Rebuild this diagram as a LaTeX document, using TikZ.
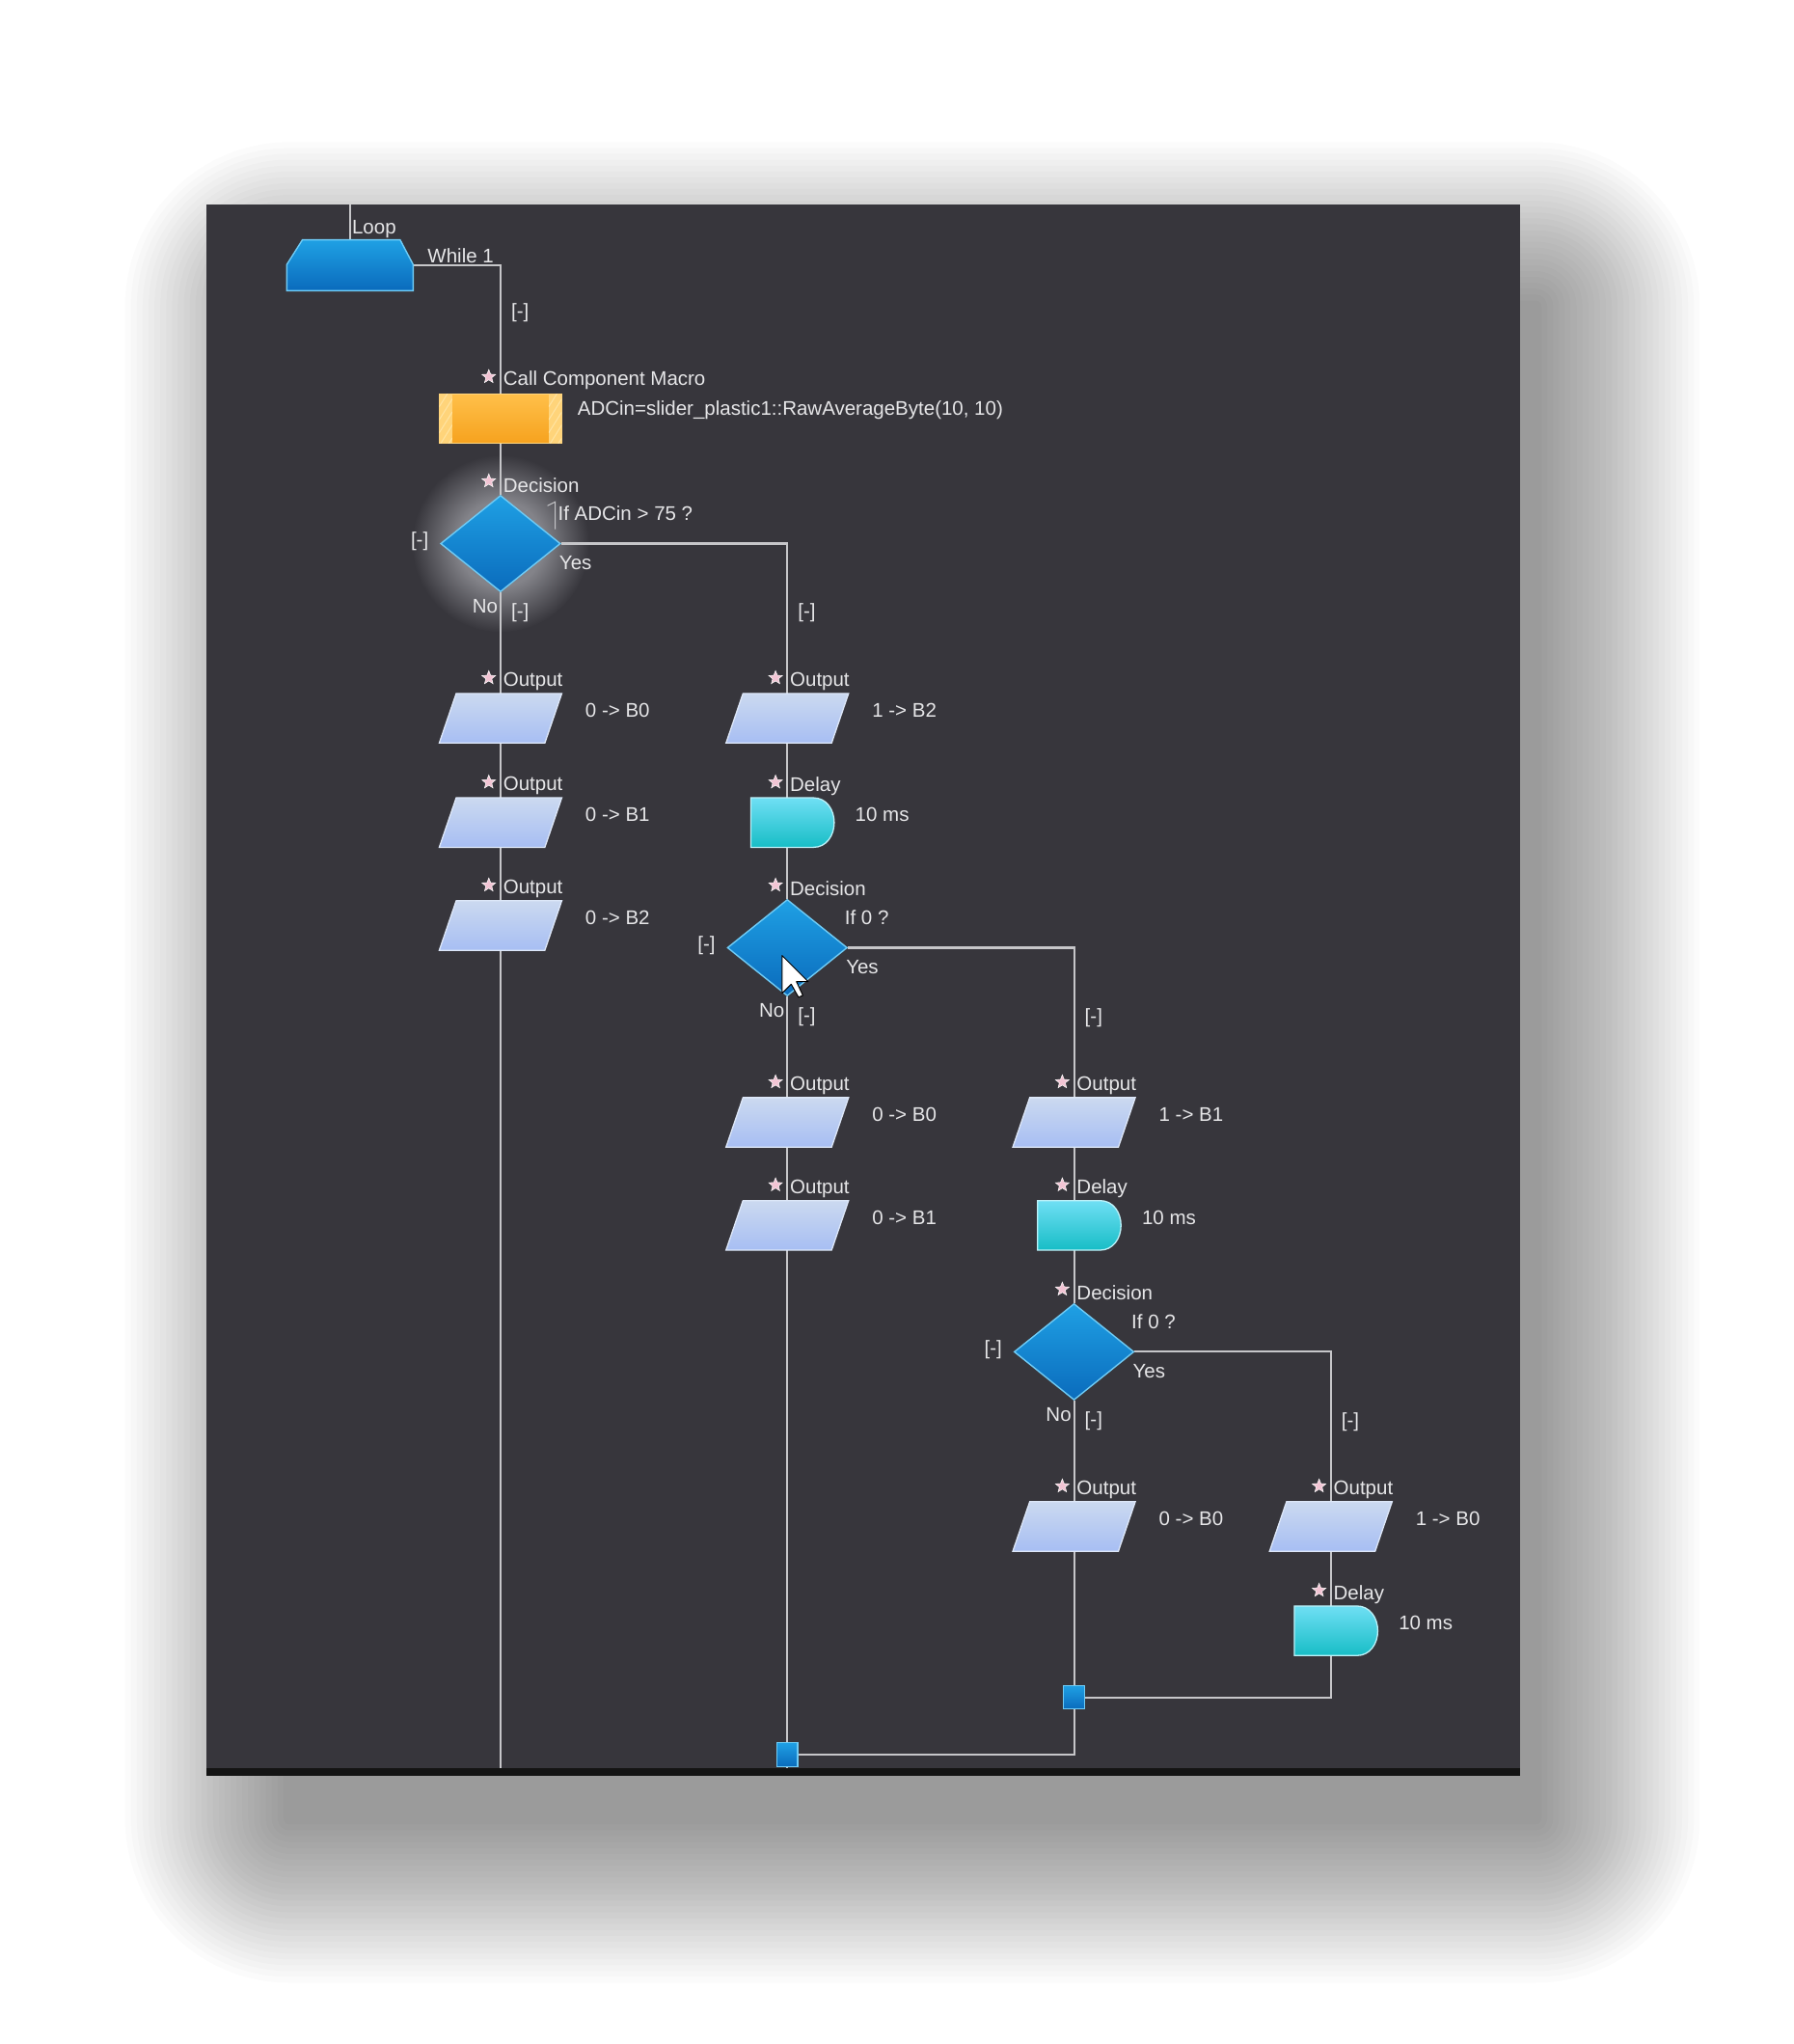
\documentclass[tikz,border=0pt]{standalone}
\usepackage{fontspec}
\setmainfont{Liberation Sans}
\usetikzlibrary{shapes.geometric,calc}
\pgfdeclarelayer{back}
\pgfdeclarelayer{wires}
\pgfsetlayers{back,wires,main}

\definecolor{panel}{HTML}{37363C}
\definecolor{lnc}{HTML}{C6C6C9}
\definecolor{txt}{HTML}{E6E6E8}
\definecolor{outT}{HTML}{CBD9F0}
\definecolor{outB}{HTML}{A7BEF3}
\definecolor{outE}{HTML}{DDE7F8}
\definecolor{dlyT}{HTML}{6FDFF4}
\definecolor{dlyB}{HTML}{17BDC6}
\definecolor{dlyE}{HTML}{BDF1F8}
\definecolor{decT}{HTML}{1FA0E4}
\definecolor{decB}{HTML}{0A6BBC}
\definecolor{decE}{HTML}{6FCBF5}
\definecolor{orgT}{HTML}{FFC04A}
\definecolor{orgB}{HTML}{F6A21E}
\definecolor{strp}{HTML}{FFE4A2}
\definecolor{starc}{HTML}{F2C4D4}
\definecolor{glowc}{HTML}{838389}

\def\pxu{1.3517pt}

\pgfdeclareradialshading{glow}{\pgfpoint{0bp}{0bp}}{color(0bp)=(glowc); color(12bp)=(glowc); color(25bp)=(panel); color(50bp)=(panel)}

\tikzset{
  conn/.style={draw=lnc, line width=2.1pt},
  lbl/.style={text=txt, font=\fontsize{20.5}{24}\selectfont, inner sep=0pt},
  hub/.style={rectangle, draw=none, inner sep=0pt, minimum width=94*\pxu, minimum height=38*\pxu},
  starn/.style={star, star points=5, star point ratio=2.3, minimum size=11*\pxu, inner sep=0pt, fill=starc, draw=white, line width=0.5pt},
  decn/.style={diamond, aspect=1.24, minimum width=92*\pxu, minimum height=74*\pxu, inner sep=0pt, top color=decT, bottom color=decB, draw=decE, line width=1.4pt},
  junc/.style={rectangle, minimum width=16*\pxu, minimum height=18*\pxu, inner sep=0pt, top color=decT, bottom color=decB, draw=decE, line width=1.2pt},
}

\newcommand\outblk[4]{%
  \node[hub] (#1) at (#2,#3) {};
  \shade[top color=outT, bottom color=outB, draw=outE, line width=1.3pt]
    ({#2-34},{#3-19}) -- ({#2+47},{#3-19}) -- ({#2+34},{#3+19}) -- ({#2-47},{#3+19}) -- cycle;
  \node[starn] (#1s) at ({#2-9},{#3-31}) {};
  \node[lbl, anchor=west] (#1l) at ({#2+2},{#3-28}) {Output};
  \node[lbl, anchor=west] (#1v) at ({#2+65},{#3-6}) {#4};
}
\newcommand\dlyblk[3]{%
  \node[hub, minimum width=56*\pxu] (#1) at (#2,#3) {};
  \shade[top color=dlyT, bottom color=dlyB, draw=dlyE, line width=1.3pt]
    ({#2-28},{#3-19}) -- ({#2+20},{#3-19})
    .. controls ({#2+30},{#3-19}) and ({#2+36},{#3-10}) .. ({#2+36},{#3})
    .. controls ({#2+36},{#3+10}) and ({#2+30},{#3+19}) .. ({#2+20},{#3+19})
    -- ({#2-28},{#3+19}) -- cycle;
  \node[starn] (#1s) at ({#2-9},{#3-31}) {};
  \node[lbl, anchor=west] (#1l) at ({#2+2},{#3-28}) {Delay};
  \node[lbl, anchor=west] (#1v) at ({#2+52},{#3-6}) {10 ms};
}
\newcommand\decblk[4]{%
  \node[decn] (#1) at (#2,#3) {};
  \node[starn] (#1s) at ({#2-9},{#3-48}) {};
  \node[lbl, anchor=west] (#1l) at ({#2+2},{#3-45}) {Decision};
  \node[lbl, anchor=west] (#1c) at ({#2+44},{#3-23}) {#4};
  \node[lbl] (#1m) at ({#2-62},{#3-2}) {[-]};
  \node[lbl, anchor=west] (#1y) at ({#2+45},{#3+15}) {Yes};
  \node[lbl, anchor=east] (#1n) at ({#2-2},{#3+48}) {No};
  \node[lbl] (#1b) at ({#2+15},{#3+53}) {[-]};
}

\begin{document}
\begin{tikzpicture}[x=1.3517pt, y=-1.3517pt]
\useasboundingbox (0,0) rectangle (1376,1568);

\begin{pgfonlayer}{back}
  \fill[white] (0,0) rectangle (1376,1568);
  \foreach \i in {1,...,28} {
    \pgfmathsetmacro\rr{\i*6.08}
    \fill[black, opacity=0.0145, rounded corners=\rr pt]
      ({222-4.5*\i},{235-4.5*\i}) rectangle ({1178+4.5*\i},{1395+4.5*\i});
  }
  \fill[panel] (158,157) rectangle (1166,1357);
  \fill[black!92] (158,1356) rectangle (1166,1362);
  \shade[shading=glow] (384,417) circle (68);
\end{pgfonlayer}

% Loop
\node[inner sep=0pt, minimum width=97*\pxu, minimum height=39*\pxu] (loop) at (268.5,203.5) {};
\shade[top color=decT, bottom color=decB, draw=decE, line width=1.4pt]
  (220,223) -- (220,203) -- (232,184) -- (307,184) -- (317,203) -- (317,223) -- cycle;
\coordinate (ltop) at (268.5,157);
\node[lbl, anchor=west] (loopl) at (270,176) {Loop};
\node[lbl, anchor=west] (whilel) at (328,196) {While 1};
\node[lbl] (m0) at (399,240) {[-]};

% Call component macro
\node[hub, top color=orgT, bottom color=orgB, draw=strp!60!orgT, line width=1.2pt] (call) at (384,321) {};
\begin{scope}
  \clip (337,302) rectangle (347,340);
  \fill[strp!55!orgT] (337,302) rectangle (347,340);
  \foreach \k in {0,...,4} \draw[strp, line width=1pt] (337,{312+\k*10}) -- (347,{296+\k*10});
\end{scope}
\begin{scope}
  \clip (421,302) rectangle (431,340);
  \fill[strp!55!orgT] (421,302) rectangle (431,340);
  \foreach \k in {0,...,4} \draw[strp, line width=1pt] (421,{312+\k*10}) -- (431,{296+\k*10});
\end{scope}
\node[starn] (calls) at (375,289) {};
\node[lbl, anchor=west] (calll) at (386,292) {Call Component Macro};
\node[lbl, anchor=west] (callv) at (443,315) {ADCin=slider\_plastic1::RawAverageByte(10, 10)};

% Decision 1
\decblk{d1}{384}{417}{If ADCin > 75 ?}
\draw[lnc, line width=1pt] (420,388) -- (426,385) -- (426,406);

% Column 1
\outblk{o1a}{384}{551}{0 -> B0}
\outblk{o1b}{384}{631}{0 -> B1}
\outblk{o1c}{384}{710}{0 -> B2}
\coordinate (pb1) at (384,1356);

% Column 2
\node[lbl] (m2) at (619,470) {[-]};
\outblk{o2a}{604}{551}{1 -> B2}
\dlyblk{dl2}{604}{631}
\decblk{d2}{604}{727}{If 0 ?}
\outblk{o2b}{604}{861}{0 -> B0}
\outblk{o2c}{604}{940}{0 -> B1}
\node[junc] (j1) at (604,1346) {};
\coordinate (pb2) at (604,1356);

% Column 3
\node[lbl] (m3) at (839,781) {[-]};
\outblk{o3a}{824}{861}{1 -> B1}
\dlyblk{dl3}{824}{940}
\decblk{d3}{824}{1037}{If 0 ?}
\outblk{o3b}{824}{1171}{0 -> B0}
\node[junc] (j2) at (824,1302) {};

% Column 4
\node[lbl] (m4) at (1036,1091) {[-]};
\outblk{o4a}{1021}{1171}{1 -> B0}
\dlyblk{dl4}{1021}{1251}

% connectors
\begin{pgfonlayer}{wires}
  \draw[conn] (ltop) -- (loop.north);
  \draw[conn] (loop.east) -| (call.north);
  \draw[conn] (call) -- (d1);
  \draw[conn] (d1) -- (o1a);
  \draw[conn] (o1a) -- (o1b);
  \draw[conn] (o1b) -- (o1c);
  \draw[conn] (o1c) -- (pb1);
  \draw[conn] (d1.east) -| (o2a.north);
  \draw[conn] (o2a) -- (dl2);
  \draw[conn] (dl2) -- (d2);
  \draw[conn] (d2) -- (o2b);
  \draw[conn] (o2b) -- (o2c);
  \draw[conn] (o2c) -- (j1);
  \draw[conn] (j1) -- (pb2);
  \draw[conn] (d2.east) -| (o3a.north);
  \draw[conn] (o3a) -- (dl3);
  \draw[conn] (dl3) -- (d3);
  \draw[conn] (d3) -- (o3b);
  \draw[conn] (o3b) -- (j2);
  \draw[conn] (j2.south) |- (j1.east);
  \draw[conn] (d3.east) -| (o4a.north);
  \draw[conn] (o4a) -- (dl4);
  \draw[conn] (dl4.south) |- (j2.east);
\end{pgfonlayer}

% mouse cursor
\draw[fill=white, draw=black, line width=1pt, line join=round]
  (600,733) -- (600,762) -- (607,755) -- (612.6,765) -- (616,763.6) -- (611,753) -- (620,753) -- cycle;
\end{tikzpicture}
\end{document}
